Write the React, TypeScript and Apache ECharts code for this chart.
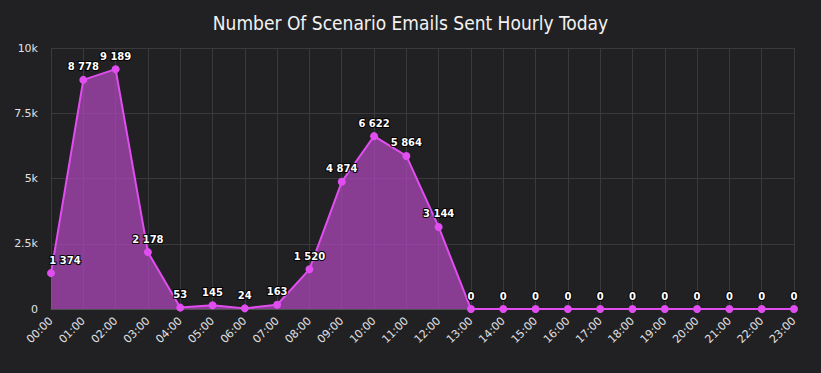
import React, { useEffect, useRef } from "react";
import * as echarts from "echarts";

const hours = [
  "00:00", "01:00", "02:00", "03:00", "04:00", "05:00", "06:00", "07:00",
  "08:00", "09:00", "10:00", "11:00", "12:00", "13:00", "14:00", "15:00",
  "16:00", "17:00", "18:00", "19:00", "20:00", "21:00", "22:00", "23:00",
];
const emailsSent = [
  1374, 8778, 9189, 2178, 53, 145, 24, 163, 1520, 4874, 6622, 5864, 3144,
  0, 0, 0, 0, 0, 0, 0, 0, 0, 0, 0,
];
const yTicks: Record<number, string> = { 0: "0", 2500: "2.5k", 5000: "5k", 7500: "7.5k", 10000: "10k" };

const fmt = (v: number) => String(v).replace(/\B(?=(\d{3})+(?!\d))/g, " ");

export default function App() {
  const ref = useRef<HTMLDivElement>(null);
  useEffect(() => {
    document.body.style.margin = "0";
    document.body.style.background = "#212123";
    if (!ref.current) return;
    const chart = echarts.init(ref.current, undefined, { renderer: "svg" });
    const seriesData = emailsSent.map((v, i) =>
      i === 0 ? { value: v, label: { offset: [14, 0] } } : v
    );
    chart.setOption({
      animation: false,
      backgroundColor: "#212123",
      title: {
        text: "Number Of Scenario Emails Sent Hourly Today",
        left: "center",
        top: 8,
        textStyle: {
          color: "#F2F2F2",
          fontSize: 19,
          fontWeight: "normal",
          fontFamily: "'DejaVu Sans Condensed', 'Liberation Sans Narrow', sans-serif",
        },
      },
      grid: { left: 51, right: 27, top: 48, bottom: 64 },
      xAxis: {
        type: "category",
        data: hours,
        boundaryGap: false,
        axisLine: { show: true, lineStyle: { color: "#505053", width: 1 } },
        axisTick: { show: false },
        axisLabel: {
          rotate: 45,
          color: "#E0E0E3",
          fontSize: 11,
          fontFamily: "'DejaVu Sans', sans-serif",
          interval: 0,
          margin: 10,
        },
        splitLine: { show: true, lineStyle: { color: "#3a3a3d", width: 1 } },
      },
      yAxis: {
        type: "value",
        min: 0,
        max: 10000,
        interval: 2500,
        axisLine: { show: false },
        axisTick: { show: false },
        axisLabel: {
          color: "#E0E0E3",
          fontSize: 11,
          fontFamily: "'DejaVu Sans', sans-serif",
          margin: 13,
          formatter: (v: number) => yTicks[v] ?? "",
        },
        splitLine: { show: true, lineStyle: { color: "#3a3a3d", width: 1 } },
      },
      series: [
        {
          type: "line",
          data: seriesData,
          symbol: "circle",
          symbolSize: 8,
          itemStyle: { color: "#e14ef0" },
          lineStyle: { color: "#e14ef0", width: 2 },
          areaStyle: { color: "#b046be", opacity: 0.72 },
          label: {
            show: true,
            position: "top",
            distance: 4,
            color: "#ffffff",
            fontSize: 10,
            fontWeight: "bold",
            fontFamily: "'DejaVu Sans', sans-serif",
            textBorderColor: "#000000",
            textBorderWidth: 2,
            formatter: (p: any) => fmt(p.value),
          },
        },
      ],
    });
    return () => chart.dispose();
  }, []);
  return <div ref={ref} style={{ width: 821, height: 373 }} />;
}
